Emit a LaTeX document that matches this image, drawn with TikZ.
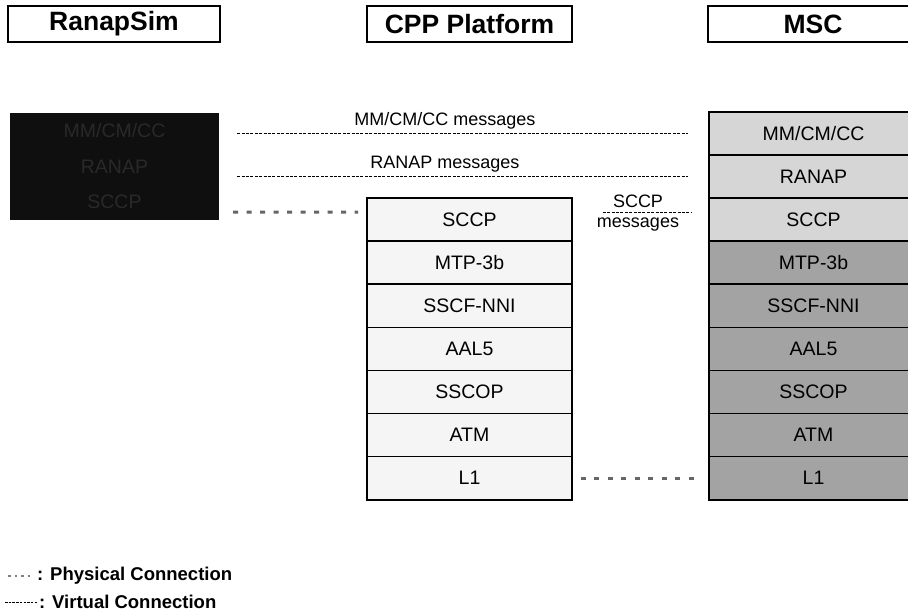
\documentclass[tikz,border=0pt]{standalone}
\usepackage{fontspec}
\setmainfont{Liberation Sans}
\definecolor{cppfill}{gray}{0.96}
\definecolor{msclight}{gray}{0.84}
\definecolor{mscdark}{gray}{0.64}
\definecolor{simfill}{gray}{0.06}
\definecolor{simtext}{gray}{0.16}
\begin{document}
\begin{tikzpicture}[x=1pt,y=-1pt,
  hdr/.style={draw, line width=2.2pt, minimum height=36pt, inner sep=0pt,
    font=\fontsize{26.5}{30}\selectfont\bfseries},
  layer/.style={draw, line width=1.6pt, minimum width=205pt, minimum height=43.1pt,
    inner sep=0pt, font=\fontsize{19.5}{22}\selectfont},
  msclayer/.style={layer, minimum width=209pt},
  simlayer/.style={minimum width=209pt, minimum height=35.7pt, inner sep=0pt,
    text=simtext, font=\fontsize{19.5}{22}\selectfont},
  lbl/.style={inner sep=0pt, font=\fontsize{18}{21}\selectfont},
  legend/.style={inner sep=0pt, anchor=west, font=\fontsize{18.5}{21}\selectfont\bfseries},
  phys/.style={line width=3pt, black!60, dash pattern=on 5pt off 8.5pt},
  virt/.style={line width=1.2pt, dash pattern=on 3pt off 1.4pt}
]
\useasboundingbox (0,0) rectangle (908,611);
\clip (0,0) rectangle (908,611);

% column headers
\node[hdr, minimum width=212pt] (hsim) at (114,24) {RanapSim};
\node[hdr, minimum width=205pt] (hcpp) at (469.5,24) {CPP Platform};
\node[hdr, minimum width=210pt] (hmsc) at (813,24) {MSC};

% RanapSim stack (dark block)
\node[fill=simfill, minimum width=209pt, minimum height=107pt, inner sep=0pt] (dark) at (114.5,166.5) {};
\node[simlayer] (rs1) at (114.5,131) {MM/CM/CC};
\node[simlayer] (rs2) at (114.5,166.5) {RANAP};
\node[simlayer] (rs3) at (114.5,202) {SCCP};

% CPP Platform stack
\foreach [count=\i] \nm/\txt in {sccp/SCCP, mtp/MTP-3b, sscf/SSCF-NNI, aal/AAL5, sscop/SSCOP, atm/ATM, lone/L1}
  \node[layer, fill=cppfill] (c\nm) at (469.5, {198+43.1*\i-21.55}) {\txt};

% MSC stack
\node[msclayer, fill=msclight] (mmm)    at (813.5,133.35) {MM/CM/CC};
\node[msclayer, fill=msclight] (mranap) at (813.5,176.45) {RANAP};
\foreach [count=\i] \nm/\txt/\col in {sccp/SCCP/msclight, mtp/MTP-3b/mscdark, sscf/SSCF-NNI/mscdark,
    aal/AAL5/mscdark, sscop/SSCOP/mscdark, atm/ATM/mscdark, lone/L1/mscdark}
  \node[msclayer, fill=\col] (m\nm) at (813.5, {198+43.1*\i-21.55}) {\txt};

% virtual connections
\draw[virt] ([xshift=18pt]dark.east |- mmm.west) -- ([xshift=-20pt]mmm.west);
\draw[virt] ([xshift=18pt]dark.east |- mranap.west) -- ([xshift=-20pt]mranap.west);
\draw[virt] ([xshift=30pt,yshift=7pt]csccp.east) -- ([xshift=-17pt,yshift=7pt]msccp.west);
\node[lbl] (lmm) at (445,121) {MM/CM/CC messages};
\node[lbl] (lran) at (445,164.5) {RANAP messages};
\node[lbl] (lsc1) at (638,201) {SCCP};
\node[lbl] (lsc2) at (638,225) {messages};

% physical connections
\draw[phys] ([xshift=14pt,yshift=-45.5pt]dark.east) -- ([xshift=-8pt,yshift=7.5pt]csccp.west);
\draw[phys] ([xshift=8pt]clone.east) -- ([xshift=-8pt]mlone.west);

% legend
\coordinate (lp1) at (8,576);
\coordinate (lp2) at (33,576);
\draw[line width=2pt, black!50, dash pattern=on 2.5pt off 4pt] (lp1) -- (lp2);
\node[legend] (lgp) at (37,576) {: Physical Connection};
\coordinate (lv1) at (5,602);
\coordinate (lv2) at (37,602);
\draw[line width=1pt, dash pattern=on 2.5pt off 1.2pt] (lv1) -- (lv2);
\node[legend] (lgv) at (39,602) {: Virtual Connection};
\end{tikzpicture}
\end{document}
